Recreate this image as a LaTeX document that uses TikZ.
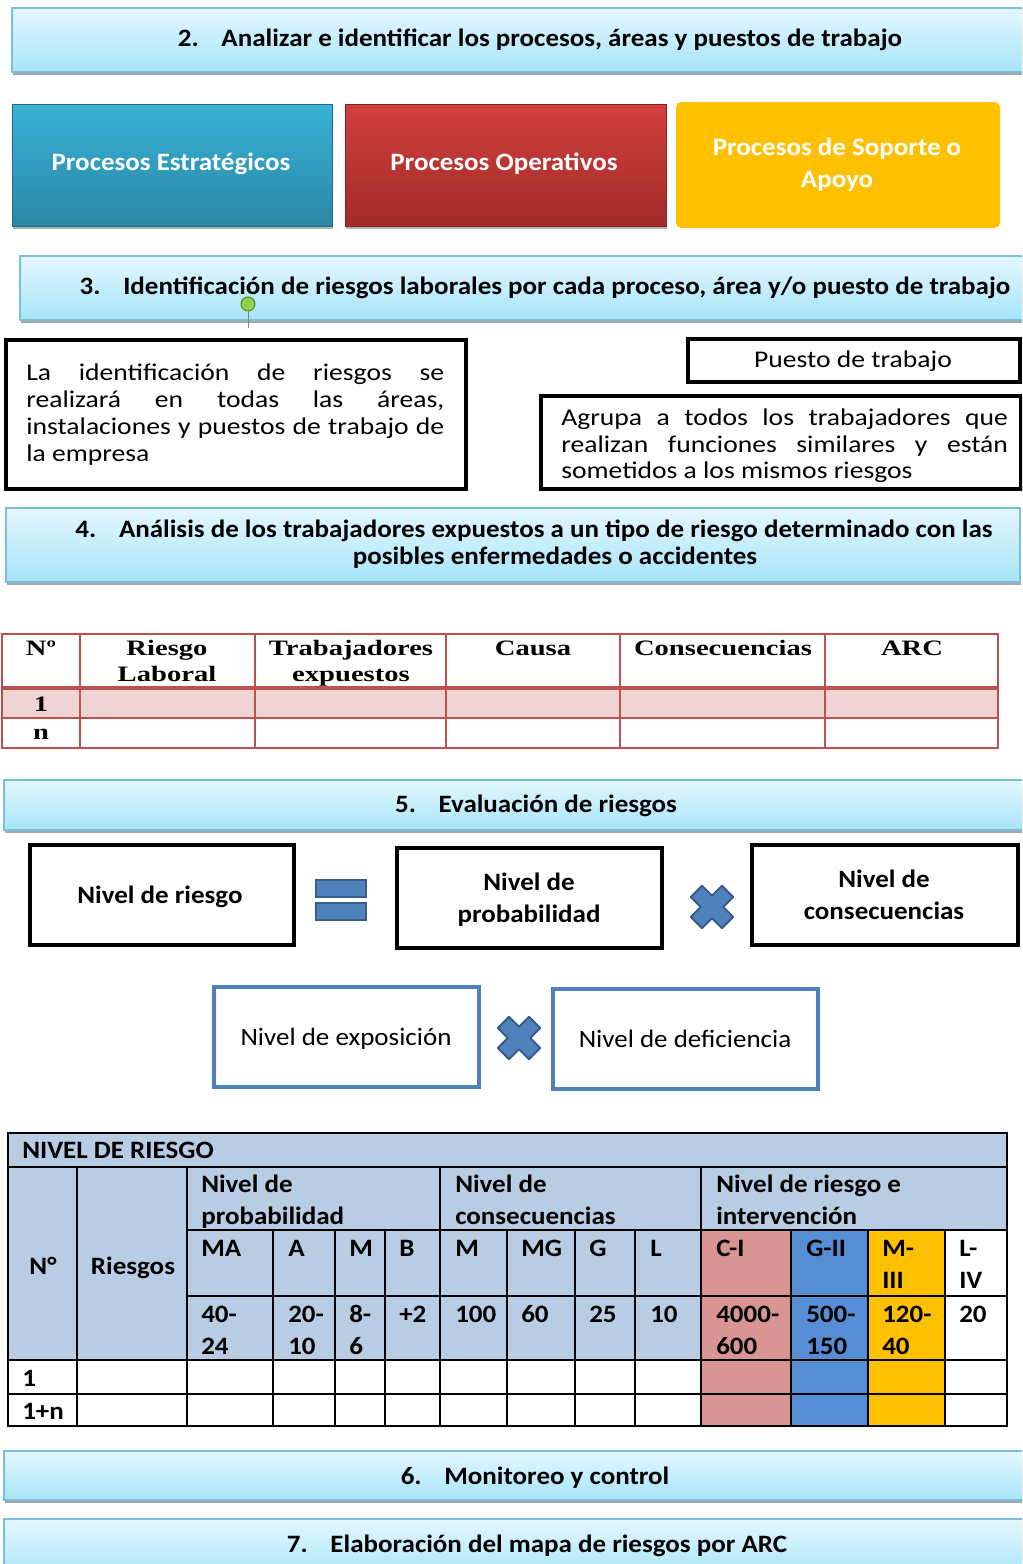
\documentclass[tikz,border=0pt]{standalone}
\usepackage{fontspec}
\setmainfont{Carlito}
\newfontfamily\cf[FakeStretch=1.08]{Carlito}
\newfontfamily\crg[FakeStretch=1.15]{Carlito}
\newfontfamily\cbf[FakeStretch=1.3]{Liberation Serif}
\usetikzlibrary{shadows}
\definecolor{hdtop}{HTML}{E4F7FE}
\definecolor{hdbot}{HTML}{A6E4F9}
\definecolor{hdborder}{HTML}{79C0D8}
\definecolor{tealtop}{HTML}{38B2D7}
\definecolor{tealbot}{HTML}{2A87A4}
\definecolor{redtop}{HTML}{D2403C}
\definecolor{redbot}{HTML}{A22B29}
\definecolor{gold}{HTML}{FFC000}
\definecolor{tabred}{HTML}{C0504D}
\definecolor{pinkrow}{HTML}{F0D3D4}
\definecolor{lblue}{HTML}{B8CCE4}
\definecolor{cicol}{HTML}{D99594}
\definecolor{giicol}{HTML}{558ED5}
\definecolor{xblue}{HTML}{4F81BD}
\definecolor{xdark}{HTML}{385D8A}
\definecolor{dotgreen}{HTML}{8FD14F}
\definecolor{dotdark}{HTML}{5A8F29}
\tikzset{
  hdr/.style={draw=hdborder, line width=1.5, top color=hdtop, bottom color=hdbot,
    drop shadow={shadow xshift=0.8pt, shadow yshift=-2.5pt, fill=black, opacity=0.35}},
  procshadow/.style={drop shadow={shadow xshift=0.8pt, shadow yshift=-2.5pt, fill=black, opacity=0.3}},
  htxt/.style={font=\cf\bfseries\fontsize{18.75}{22}\selectfont, text=black, inner sep=0, anchor=base},
  ptxt/.style={font=\cf\bfseries\fontsize{18.75}{22}\selectfont, text=white, inner sep=0, anchor=base},
  btxt/.style={font=\crg\fontsize{18}{22}\selectfont, text=black, inner sep=0, anchor=base west},
  nbtxt/.style={font=\cf\bfseries\fontsize{18.75}{22}\selectfont, text=black, inner sep=0, anchor=base},
  nrtxt/.style={font=\cf\fontsize{18.75}{22}\selectfont, text=black, inner sep=0, anchor=base},
  blackbox/.style={draw=black, line width=3.2},
  bluebox/.style={draw=xblue, line width=3.2},
  t1txt/.style={font=\cbf\bfseries\fontsize{16.5}{20}\selectfont, text=black, inner sep=0, anchor=base},
  t2txt/.style={font=\cf\bfseries\fontsize{18.75}{22}\selectfont, text=black, inner sep=0, anchor=base west},
  tline/.style={draw=tabred, line width=1},
  kline/.style={draw=black, line width=1.3},
  mulsign/.style={fill=xblue, draw=xdark, line width=1.5, line join=round},
}
\newcommand{\mulshape}{(8,22) -- (8,8) -- (22,8) -- (22,-8) -- (8,-8) -- (8,-22) -- (-8,-22) -- (-8,-8) -- (-22,-8) -- (-22,8) -- (-8,8) -- (-8,22) -- cycle}
\begin{document}
\begin{tikzpicture}[x=0.75pt, y=-0.75pt]
\useasboundingbox (0,0) rectangle (1022,1564);
\clip (0,0) rectangle (1022,1564);

% ---------- section 2
\path[hdr] (12,8) rectangle (1032,72);
\node[htxt] (t2) at (540,46) {2.\hspace{17pt}Analizar e identificar los procesos, áreas y puestos de trabajo};

\path[procshadow, draw=tealbot!80!black, line width=0.6, top color=tealtop, bottom color=tealbot] (12,104) rectangle (332,226);
\node[ptxt] (pe) at (171,170) {Procesos Estratégicos};
\path[procshadow, draw=redbot!80!black, line width=0.6, top color=redtop, bottom color=redbot] (345,104) rectangle (666,226);
\node[ptxt] (po) at (504,170) {Procesos Operativos};
\path[fill=gold, rounded corners=4] (676,102) rectangle (1000,228);
\node[ptxt] (ps1) at (837,155) {Procesos de Soporte o};
\node[ptxt] (ps2) at (837,187) {Apoyo};

% ---------- section 3
\path[hdr] (20,256) rectangle (1032,320);
\node[htxt] (t3) at (545,294) {3.\hspace{17pt}Identificación de riesgos laborales por cada proceso, área y/o puesto de trabajo};
\draw[gray, line width=0.6] (248,311) -- (248,328);
\node[circle, fill=dotgreen, draw=dotdark, line width=0.8, minimum size=10.5pt, inner sep=0] (dot) at (248,304) {};

\path[blackbox, fill=white] (6,340) rectangle (466,489);
\node[btxt] (l1) at (26,380) {\makebox[313.5pt][s]{La identificación de riesgos se}};
\node[btxt] (l2) at (26,407) {\makebox[313.5pt][s]{realizará en todas las áreas,}};
\node[btxt] (l3) at (26,434) {\makebox[313.5pt][s]{instalaciones y puestos de trabajo de}};
\node[btxt] (l4) at (26,461) {la empresa};

\path[blackbox, fill=white] (688,339) rectangle (1020,382);
\node[btxt, anchor=base] (pt) at (853,367) {Puesto de trabajo};

\path[blackbox, fill=white] (541,396) rectangle (1021,489);
\node[btxt] (a1) at (561,425) {\makebox[335pt][s]{Agrupa a todos los trabajadores que}};
\node[btxt] (a2) at (561,452) {\makebox[335pt][s]{realizan funciones similares y están}};
\node[btxt] (a3) at (561,478) {sometidos a los mismos riesgos};

% ---------- section 4
\path[hdr] (6,508) rectangle (1020,582);
\node[htxt] (t4a) at (534,537) {4.\hspace{17pt}Análisis de los trabajadores expuestos a un tipo de riesgo determinado con las};
\node[htxt] (t4b) at (555,564) {posibles enfermedades o accidentes};

% ---------- table 1
\fill[pinkrow] (2,690) rectangle (998,718);
\draw[tline] (2,718) -- (998,718);
\foreach \xx in {80,255,446,620,825} { \draw[tline] (\xx,634) -- (\xx,748); }
\draw[draw=tabred, line width=3.5] (2,688) -- (998,688);
\draw[draw=tabred, line width=1.5] (2,634) rectangle (998,748);
\node[t1txt] (h1) at (41,655) {Nº};
\node[t1txt] (h2a) at (167,655) {Riesgo};
\node[t1txt] (h2b) at (167,681) {Laboral};
\node[t1txt] (h3a) at (351,655) {Trabajadores};
\node[t1txt] (h3b) at (351,681) {expuestos};
\node[t1txt] (h4) at (533,655) {Causa};
\node[t1txt] (h5) at (723,655) {Consecuencias};
\node[t1txt] (h6) at (912,655) {ARC};
\node[t1txt] (r1) at (41,711) {1};
\node[t1txt] (rn) at (41,739) {n};

% ---------- section 5
\path[hdr] (4,780) rectangle (1032,830);
\node[htxt] (t5) at (536,812) {5.\hspace{17pt}Evaluación de riesgos};

\path[blackbox, fill=white] (30,845) rectangle (294,945);
\node[nbtxt] (nr) at (160,903) {Nivel de riesgo};
\path[fill=xblue, draw=xdark, line width=1.5] (316,880) rectangle (366,897);
\path[fill=xblue, draw=xdark, line width=1.5] (316,903) rectangle (366,920);
\path[blackbox, fill=white] (397,848) rectangle (662,948);
\node[nbtxt] (np1) at (529,890) {Nivel de};
\node[nbtxt] (np2) at (529,922) {probabilidad};
\begin{scope}[shift={(712,907)}, rotate=45]
  \path[mulsign] \mulshape;
\end{scope}
\path[blackbox, fill=white] (752,845) rectangle (1018,945);
\node[nbtxt] (nc1) at (884,887) {Nivel de};
\node[nbtxt] (nc2) at (884,919) {consecuencias};

\path[bluebox, fill=white] (214,987) rectangle (479,1087);
\node[nrtxt] (ne) at (346,1045) {Nivel de exposición};
\begin{scope}[shift={(519,1038)}, rotate=45]
  \path[mulsign] \mulshape;
\end{scope}
\path[bluebox, fill=white] (553,989) rectangle (818,1089);
\node[nrtxt] (nd) at (685,1047) {Nivel de deficiencia};

% ---------- table 2
\fill[lblue] (8,1133) rectangle (1007,1360);
\fill[cicol] (701,1230) rectangle (791,1426);
\fill[giicol] (791,1230) rectangle (868,1426);
\fill[gold] (868,1230) rectangle (945,1426);
\fill[white] (945,1230) rectangle (1007,1360);
\foreach \yy in {1167,1360,1394} { \draw[kline] (8,\yy) -- (1007,\yy); }
\foreach \yy in {1230,1296} { \draw[kline] (187,\yy) -- (1007,\yy); }
\foreach \xx in {77,187,440,701} { \draw[kline] (\xx,1167) -- (\xx,1426); }
\foreach \xx in {273,335,385,507,575,635,791,868,945} { \draw[kline] (\xx,1230) -- (\xx,1426); }
\draw[draw=black, line width=1.8] (8,1133) rectangle (1007,1426);

\node[t2txt] (nvr) at (22,1158) {NIVEL DE RIESGO};
\node[t2txt, anchor=base] (cno) at (43,1274) {N°};
\node[t2txt, anchor=base] (cri) at (133,1274) {Riesgos};
\node[t2txt] (cp1) at (201,1192) {Nivel de};
\node[t2txt] (cp2) at (201,1224) {probabilidad};
\node[t2txt] (cc1) at (455,1192) {Nivel de};
\node[t2txt] (cc2) at (455,1224) {consecuencias};
\node[t2txt] (ci1) at (716,1192) {Nivel de riesgo e};
\node[t2txt] (ci2) at (716,1224) {intervención};
\node[t2txt] (kma) at (201,1256) {MA};
\node[t2txt] (ka) at (288,1256) {A};
\node[t2txt] (km) at (349,1256) {M};
\node[t2txt] (kb) at (399,1256) {B};
\node[t2txt] (kcm) at (455,1256) {M};
\node[t2txt] (kmg) at (521,1256) {MG};
\node[t2txt] (kg) at (589,1256) {G};
\node[t2txt] (kl) at (650,1256) {L};
\node[t2txt] (kci) at (716,1256) {C-I};
\node[t2txt] (kgii) at (806,1256) {G-II};
\node[t2txt] (kmiii) at (882,1256) {M-};
\node[t2txt] (kmiii2) at (882,1288) {III};
\node[t2txt] (kliv) at (959,1256) {L-};
\node[t2txt] (kliv2) at (959,1288) {IV};
\node[t2txt] (v1a) at (201,1322) {40-};
\node[t2txt] (v1b) at (201,1354) {24};
\node[t2txt] (v2a) at (288,1322) {20-};
\node[t2txt] (v2b) at (288,1354) {10};
\node[t2txt] (v3a) at (349,1322) {8-};
\node[t2txt] (v3b) at (349,1354) {6};
\node[t2txt] (v4) at (399,1322) {+2};
\node[t2txt] (v5) at (455,1322) {100};
\node[t2txt] (v6) at (521,1322) {60};
\node[t2txt] (v7) at (589,1322) {25};
\node[t2txt] (v8) at (650,1322) {10};
\node[t2txt] (v9a) at (716,1322) {4000-};
\node[t2txt] (v9b) at (716,1354) {600};
\node[t2txt] (v10a) at (806,1322) {500-};
\node[t2txt] (v10b) at (806,1354) {150};
\node[t2txt] (v11a) at (882,1322) {120-};
\node[t2txt] (v11b) at (882,1354) {40};
\node[t2txt] (v12) at (959,1322) {20};
\node[t2txt] (d1) at (22,1386) {1};
\node[t2txt] (d2) at (22,1419) {1+n};

% ---------- sections 6 and 7
\path[hdr] (4,1451) rectangle (1032,1500);
\node[htxt] (t6) at (535,1484) {6.\hspace{17pt}Monitoreo y control};
\path[hdr] (4,1519) rectangle (1032,1580);
\node[htxt] (t7) at (537,1552) {7.\hspace{17pt}Elaboración del mapa de riesgos por ARC};
\end{tikzpicture}
\end{document}
